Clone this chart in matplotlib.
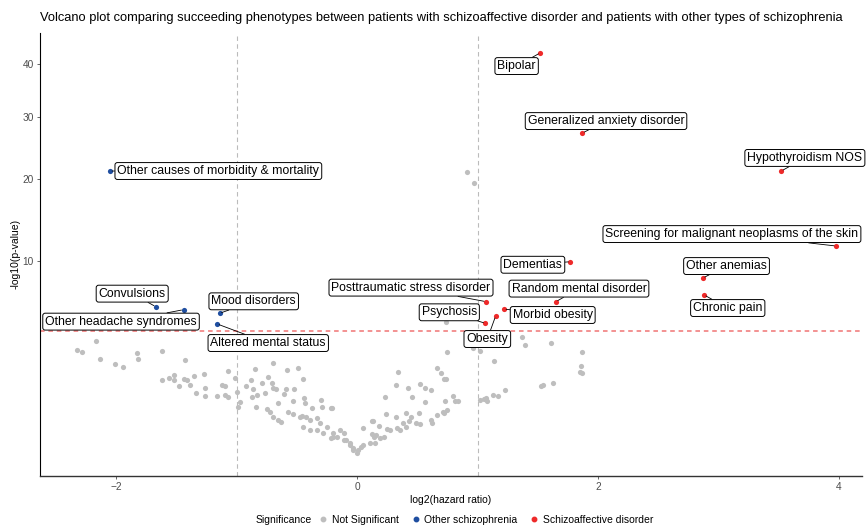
import numpy as np
import matplotlib
matplotlib.use("Agg")
import matplotlib.pyplot as plt
from matplotlib.lines import Line2D

# ---------------- data ----------------
grey_x = [-2.17, -2.32, -2.28, -2.13, -2.01, -1.94, -1.83, -1.82, -1.62, -1.43,
          -1.62, -1.56, -1.52, -1.52, -1.48, -1.44, -1.41, -1.39, -1.35, -1.27,
          -1.34, -1.26, -1.26, -1.16, -1.12, -1.10, -1.10, -1.07, -1.07, -1.01,
          -1.00, -0.97, -0.99, -0.85, -0.88, -0.92, -0.86, -0.87, -0.83, -0.84,
          -0.70, -0.79, -0.74, -0.71, -0.70, -0.67, -0.76, -0.66, -0.61, -0.58,
          -0.49, -0.45, -0.59, -0.52, -0.53, -0.44, -0.43, -0.46, -0.37, -0.30,
          -0.29, -0.22, -0.75, -0.72, -0.70, -0.66, -0.63, -0.57, -0.53, -0.47,
          -0.42, -0.39, -0.33, -0.31, -0.45, -0.39, -0.33, -0.28, -0.25, -0.20,
          -0.14, -0.11, -0.06, -0.03, 0.00, 0.03,
          0.91, 0.97, 0.74, 1.37, 1.39, 1.61, 0.75, 0.96, 1.02, 1.14,
          1.87, 1.86, 1.85, 1.87, 0.34, 0.66, 0.70, 0.72, 0.74, 0.32,
          0.42, 0.52, 0.56, 0.61, 1.53, 1.63, 1.23, 1.13, 1.17, 1.02,
          1.05, 1.08, 0.23, 0.46, 0.56, 0.73, 0.80, 0.81, 0.84, -0.21,
          0.24, 0.32, 0.41, 0.45, 0.51, 0.43, 0.49, 0.52, 0.61, 0.62,
          0.66, 0.72, 0.75, 0.12, 0.13, 0.18, 0.25, 0.27, 0.33, 0.36,
          0.38, 0.41, 0.05, 0.12, 0.14, 0.16, 0.19, 0.22, 0.11, 0.15,
          0.05, 0.01, -0.11, -0.20, -0.17, -0.22, -0.09, -0.06, -0.03,
          0.71, 1.07, 1.54]
grey_y = [3.50, 2.98, 2.86, 2.52, 2.25, 2.10, 2.82, 2.49, 2.94, 2.44,
          1.54, 1.63, 1.76, 1.55, 1.32, 1.60, 1.55, 1.34, 1.71, 1.81,
          1.06, 1.25, 0.96, 0.97, 1.35, 1.33, 1.00, 0.95, 1.93, 1.64,
          1.12, 0.78, 0.66, 2.02, 1.55, 1.32, 1.22, 0.93, 1.00, 0.65,
          2.30, 1.42, 1.66, 1.42, 1.25, 1.20, 1.06, 0.77, 1.04, 1.96,
          2.07, 1.58, 1.21, 1.21, 0.83, 0.91, 0.77, 0.44, 0.62, 0.85,
          0.66, 0.64, 0.60, 0.54, 0.43, 0.36, 0.33, 0.54, 0.49, 0.43,
          0.43, 0.36, 0.40, 0.30, 0.24, 0.19, 0.19, 0.15, 0.24, 0.11,
          0.19, 0.078, 0.051, 0.014, 0.004, 0.030,
          21.1, 19.5, 4.72, 3.77, 3.27, 3.40, 2.89, 3.08, 2.93, 2.39,
          2.86, 2.17, 1.87, 1.86, 1.89, 2.08, 1.85, 1.60, 1.60, 1.34,
          1.25, 1.38, 1.23, 1.18, 1.32, 1.44, 1.17, 1.01, 0.97, 0.85,
          0.88, 0.83, 0.94, 0.93, 0.80, 0.83, 0.97, 0.83, 0.81, 0.64,
          0.48, 0.43, 0.52, 0.43, 0.50, 0.35, 0.31, 0.28, 0.36, 0.30,
          0.46, 0.50, 0.58, 0.35, 0.34, 0.26, 0.21, 0.19, 0.22, 0.19,
          0.30, 0.24, 0.23, 0.14, 0.11, 0.13, 0.10, 0.11, 0.051, 0.056,
          0.040, 0.014, 0.15, 0.15, 0.11, 0.094, 0.078, 0.040, 0.021,
          0.53, 0.92, 1.34]

red_names = ["Bipolar", "Generalized anxiety disorder", "Hypothyroidism NOS",
             "Screening for malignant neoplasms of the skin", "Dementias",
             "Other anemias", "Chronic pain", "Random mental disorder",
             "Posttraumatic stress disorder", "Morbid obesity", "Psychosis",
             "Obesity"]
red_x = [1.52, 1.87, 3.52, 3.975, 1.77, 2.87, 2.88, 1.65, 1.07, 1.22, 1.065, 1.15]
red_y = [42.3, 27.2, 21.2, 11.55, 9.90, 8.32, 6.82, 6.27, 6.27, 5.69, 4.65, 5.17]

blue_names = ["Other causes of morbidity & mortality", "Convulsions",
              "Other headache syndromes", "Mood disorders", "Altered mental status"]
blue_x = [-2.05, -1.67, -1.44, -1.14, -1.16]
blue_y = [21.2, 5.87, 5.64, 5.37, 4.60]

# label offsets (points), layout only
red_offsets = [(-17, -9.5), (17, 8.6), (17, 9.4), (-75, 8.6), (-27, -2.2),
               (17, 8.6), (17, -9.4), (16.6, 9.4), (-54, 10.1), (35, -4.3),
               (-26, 7.9), (-6, -16.6)]
blue_offsets = [(78, 0), (-17, 9.4), (-45, -8.6), (24.5, 8.6), (36.7, -13.7)]

threshold = 4.11
hr_cut = 1.0

GREY = "#BEBEBE"
BLUE = "#1F4EA0"
RED = "#EE2A2A"

# ---------------- figure ----------------
plt.rcParams['font.family'] = ['Liberation Sans', 'DejaVu Sans']
fig = plt.figure(figsize=(8.66, 5.26), dpi=100)
ax = fig.add_axes([40/866, (526-475.7)/526, (862-40)/866, (475.7-33)/526])

def fwd(v):
    v = np.asarray(v, dtype=float)
    return np.sign(v) * np.sqrt(np.abs(v))

def inv(v):
    v = np.asarray(v, dtype=float)
    return np.sign(v) * v ** 2

ax.set_yscale('function', functions=(fwd, inv))
ax.set_xlim(-2.631, 4.19)
ax.set_ylim(-0.0866, 46.56)

ax.axhline(threshold, color="#F07474", lw=1.1, ls=(0, (3, 2.5)), zorder=1)
for xv in (-hr_cut, hr_cut):
    ax.axvline(xv, color="#BBBBBB", lw=0.8, ls=(0, (4, 3)), zorder=1)

ax.scatter(grey_x, grey_y, s=14, color=GREY, lw=0, zorder=2)
ax.scatter(blue_x, blue_y, s=14, color=BLUE, lw=0, zorder=3)
ax.scatter(red_x, red_y, s=14, color=RED, lw=0, zorder=3)

def label(names, xs, ys, offs):
    for n, x, y, (dx, dy) in zip(names, xs, ys, offs):
        ax.annotate(n, xy=(x, y), xytext=(dx, dy), textcoords='offset points',
                    ha='center', va='center', fontsize=8.8, color='black',
                    bbox=dict(boxstyle='round,pad=0.2,rounding_size=0.2',
                              fc='white', ec='black', lw=0.7),
                    arrowprops=dict(arrowstyle='-', color='black', lw=0.6,
                                    shrinkA=0, shrinkB=1.5),
                    zorder=5)

label(red_names, red_x, red_y, red_offsets)
label(blue_names, blue_x, blue_y, blue_offsets)

ax.set_xticks([-2, 0, 2, 4])
ax.set_yticks([10, 20, 30, 40])
ax.tick_params(axis='both', labelsize=7.3, colors='#4D4D4D', length=2.5, width=0.6, pad=2)
for s in ('top', 'right'):
    ax.spines[s].set_visible(False)
ax.spines['left'].set_color('black')
ax.spines['bottom'].set_color('#333333')
ax.spines['left'].set_linewidth(0.8)
ax.spines['bottom'].set_linewidth(1.0)

ax.set_xlabel("log2(hazard ratio)", fontsize=7.5, labelpad=2)
ax.set_ylabel("-log10(p-value)", fontsize=7.5, labelpad=1)

fig.text(40/866, 1-18/526, "Volcano plot comparing succeeding phenotypes between patients "
         "with schizoaffective disorder and patients with other types of schizophrenia",
         fontsize=9.3, ha='left', va='center')

fig.text(256/866, 1-520/526, "Significance", fontsize=7.5, ha='left', va='center')
handles = [Line2D([], [], ls='', marker='o', ms=3.2, mfc=c, mec=c)
           for c in (GREY, BLUE, RED)]
fig.legend(handles, ["Not Significant", "Other schizophrenia", "Schizoaffective disorder"],
           loc='center left', bbox_to_anchor=(318/866, 1-520/526), ncol=3, frameon=False,
           fontsize=7.5, handlelength=1.0, handletextpad=0.35, columnspacing=1.1,
           borderaxespad=0, borderpad=0)

fig.savefig("out.png", dpi=100)
